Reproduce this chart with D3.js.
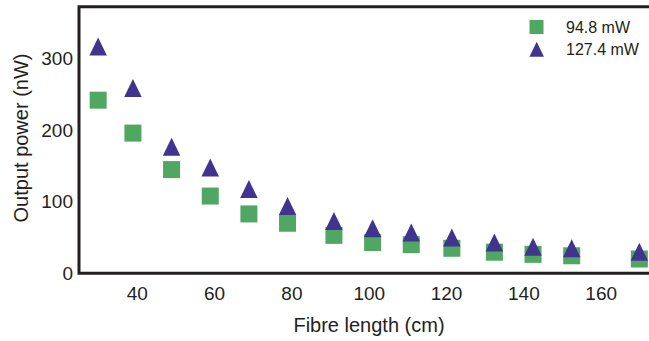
<!DOCTYPE html>
<meta charset="utf-8">
<title>fibre output power</title>
<style>
    body { margin: 0; background: #fff; }
    text { font-family: "Liberation Sans", Arial, sans-serif; fill: #231f20; }
</style>
<body>
<script src="https://d3js.org/d3.v7.min.js"></script>
<script>
    // data
    var lengthsCm = [30, 39, 49, 59, 69, 79, 91, 101, 111, 121.5, 132.5, 142.5, 152.5, 170];
    var power948 = [242, 196, 145, 108, 83, 70, 53, 43, 40, 35, 29.5, 26.5, 24.5, 20];
    var power1274 = [317, 259, 177, 148, 118, 94, 73, 63, 57, 50, 43, 37, 35, 30];
    var seriesNames = ["94.8 mW", "127.4 mW"];
    var xTicks = [40, 60, 80, 100, 120, 140, 160];
    var yTicks = [0, 100, 200, 300];

    var width = 649, height = 341;
    var plotLeft = 79, plotRight = 649, plotTop = 6.7, plotBottom = 273.3;
    var green = "#4fa762", purple = "#40348f", ink = "#231f20";

    var svg = d3.select("body").append("svg")
        .attr("width", width)
        .attr("height", height);

    var x = d3.scaleLinear().domain([25.05, 172.5]).range([plotLeft, plotRight]);
    var y = d3.scaleLinear().domain([0, 372.7]).range([plotBottom, plotTop]);

    // axes, no tick marks just labels
    var xAxis = svg.append("g")
        .attr("transform", "translate(0," + plotBottom + ")")
        .call(d3.axisBottom(x).tickValues(xTicks).tickSize(0).tickPadding(13));
    xAxis.select(".domain").remove();
    xAxis.selectAll("text")
        .style("font-size", "19px")
        .style("font-family", "'Liberation Sans', Arial, sans-serif")
        .attr("fill", ink);

    var yAxis = svg.append("g")
        .attr("transform", "translate(" + plotLeft + ",0)")
        .call(d3.axisLeft(y).tickValues(yTicks).tickSize(0).tickPadding(6));
    yAxis.select(".domain").remove();
    yAxis.selectAll("text")
        .style("font-size", "19px")
        .style("font-family", "'Liberation Sans', Arial, sans-serif")
        .attr("fill", ink);

    // frame lines (left, top, bottom)
    svg.append("path")
        .attr("d", "M" + plotRight + "," + plotTop + "H" + plotLeft + "V" + plotBottom + "H" + plotRight)
        .attr("stroke", ink)
        .attr("stroke-width", 3)
        .attr("fill", "none");

    // axis titles
    svg.append("text")
        .attr("x", 369)
        .attr("y", 332)
        .attr("text-anchor", "middle")
        .style("font-size", "20px")
        .text("Fibre length (cm)");

    svg.append("text")
        .attr("transform", "translate(28,138) rotate(-90)")
        .attr("text-anchor", "middle")
        .style("font-size", "20px")
        .text("Output power (nW)");

    function trianglePath(w, h) {
        return "M0," + (-h / 2) + "L" + (w / 2) + "," + (h / 2) + "L" + (-w / 2) + "," + (h / 2) + "Z";
    }

    var sq = 17;
    svg.append("g").selectAll("rect")
        .data(lengthsCm)
        .enter().append("rect")
        .attr("x", function(d) { return x(d) - sq / 2; })
        .attr("y", function(d, i) { return y(power948[i]) - sq / 2; })
        .attr("width", sq)
        .attr("height", sq)
        .attr("fill", green);

    svg.append("g").selectAll("path")
        .data(lengthsCm)
        .enter().append("path")
        .attr("transform", function(d, i) { return "translate(" + x(d) + "," + y(power1274[i]) + ")"; })
        .attr("d", trianglePath(17.5, 18))
        .attr("fill", purple);

    // legend
    var legend = svg.append("g");
    legend.append("rect")
        .attr("x", 529.5).attr("y", 20)
        .attr("width", 14).attr("height", 14)
        .attr("fill", green);
    legend.append("path")
        .attr("transform", "translate(536.7,49.2)")
        .attr("d", trianglePath(14.5, 15))
        .attr("fill", purple);
    legend.selectAll("text")
        .data(seriesNames)
        .enter().append("text")
        .attr("x", 566)
        .attr("y", function(d, i) { return 27 + i * 22.5; })
        .attr("dy", "0.35em")
        .style("font-size", "16px")
        .text(function(d) { return d; });
</script>
</body>
